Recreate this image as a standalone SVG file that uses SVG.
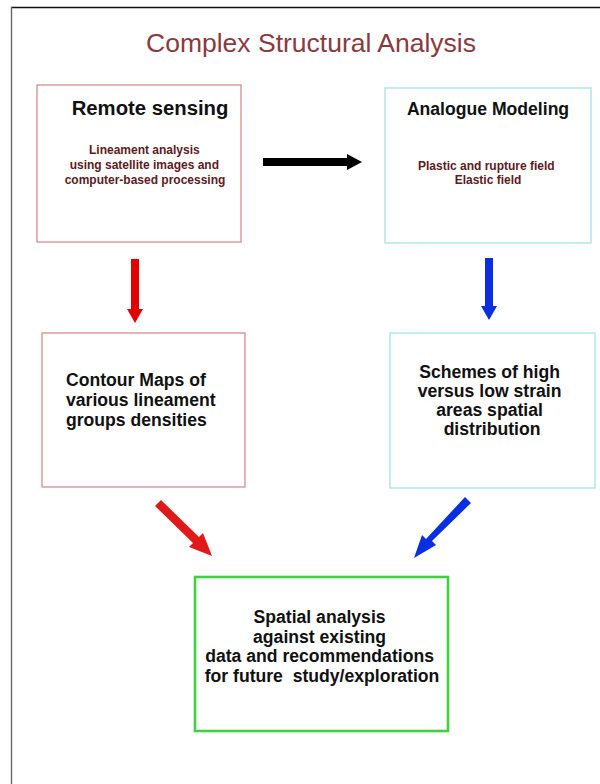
<svg xmlns="http://www.w3.org/2000/svg" width="600" height="784" viewBox="0 0 600 784">
  <style>
    .box { fill: #ffffff; stroke-width: 1.3; }
    .red-box { stroke: #d98c8c; }
    .cyan-box { stroke: #a6e3e3; }
    .green-box { stroke: #3fd23f; stroke-width: 2.6; }
    .title { font-family: "Liberation Sans", Arial, sans-serif; font-size: 26.5px; fill: #8a3a3f; }
    .head { font-family: "Liberation Sans", Arial, sans-serif; font-weight: bold; fill: #111111; }
    .sub { font-family: "Liberation Sans", Arial, sans-serif; font-weight: bold; font-size: 12px; fill: #5e1a22; }
    .body { font-family: "Liberation Sans", Arial, sans-serif; font-weight: bold; font-size: 17.6px; fill: #111111; }
  </style>

  <rect x="0" y="0" width="600" height="784" fill="#ffffff"/>

  <!-- page frame -->
  <line x1="11" y1="7.5" x2="600" y2="7.5" stroke="#111111" stroke-width="1.6"/>
  <line x1="11.5" y1="7" x2="11.5" y2="784" stroke="#666666" stroke-width="1.4"/>

  <text class="title" x="311" y="52" text-anchor="middle">Complex Structural Analysis</text>

  <g id="remote-sensing">
    <rect class="box red-box" x="37" y="85" width="204" height="157"/>
    <text class="head" x="150" y="115" font-size="20.3" text-anchor="middle">Remote sensing</text>
    <text class="sub" text-anchor="middle">
      <tspan x="146" y="154">Lineament analysis</tspan>
      <tspan x="146" y="169">using satellite images and</tspan>
      <tspan x="145" y="184">computer-based processing</tspan>
    </text>
  </g>

  <g id="analogue-modeling">
    <rect class="box cyan-box" x="385" y="88" width="206" height="155"/>
    <text class="head" x="488" y="115" font-size="17.6" text-anchor="middle">Analogue Modeling</text>
    <text class="sub" text-anchor="middle">
      <tspan x="488" y="170">Plastic and rupture field</tspan>
      <tspan x="488" y="184">Elastic field</tspan>
    </text>
  </g>

  <g id="contour-maps">
    <rect class="box red-box" x="42" y="333" width="203" height="154"/>
    <text class="body">
      <tspan x="66" y="386">Contour Maps of</tspan>
      <tspan x="66" y="406">various lineament</tspan>
      <tspan x="66" y="426">groups densities</tspan>
    </text>
  </g>

  <g id="strain-schemes">
    <rect class="box cyan-box" x="390" y="333" width="205" height="155"/>
    <text class="body" text-anchor="middle">
      <tspan x="492" y="378">Schemes of high</tspan>
      <tspan x="492" y="397">versus low strain</tspan>
      <tspan x="492" y="416">areas spatial</tspan>
      <tspan x="492" y="435">distribution</tspan>
    </text>
  </g>

  <g id="spatial-analysis">
    <rect class="box green-box" x="195" y="577" width="253" height="154"/>
    <text class="body" text-anchor="middle">
      <tspan x="322" y="623">Spatial analysis</tspan>
      <tspan x="322" y="643">against existing</tspan>
      <tspan x="322" y="662">data and recommendations</tspan>
      <tspan x="322" y="682">for future&#160; study/exploration</tspan>
    </text>
  </g>

  <!-- block arrows between the steps -->
  <g id="connectors">
    <polygon fill="#000000" points="263,158 347,158 347,154 362,162 347,170 347,166 263,166"/>
    <polygon fill="#e00000" points="131,259 139,259 139,309 143,309 135,323 127,309 131,309"/>
    <polygon fill="#0a2ee0" points="485,258 493,258 493,306 497,306 489,320 481,306 485,306"/>
    <polygon fill="#e01a1a" points="155,506 161,500 199,537 203,533 212,556 189,547 193,543"/>
    <polygon fill="#0a2ee0" points="465,497 471,503 432,541 436,545 414,558 422,535 426,539"/>
  </g>
</svg>
